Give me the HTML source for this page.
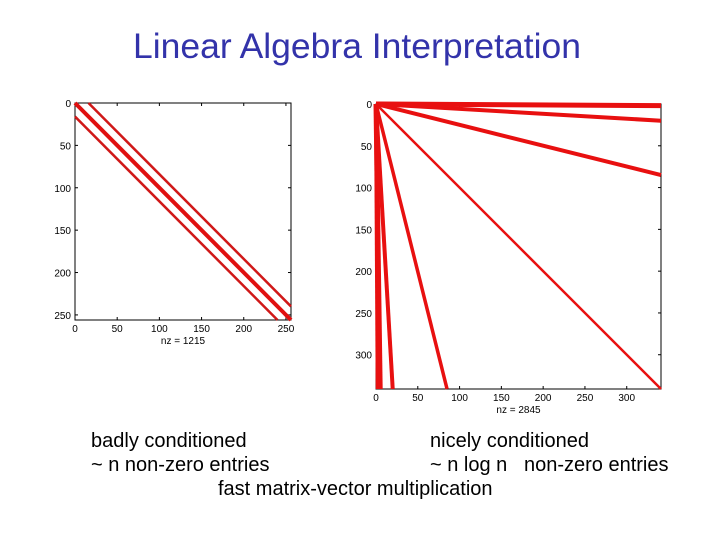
<!DOCTYPE html>
<html><head><meta charset="utf-8"><style>
body{margin:0;background:#fff;width:720px;height:540px;overflow:hidden;font-family:"Liberation Sans",sans-serif}
.t{position:absolute;white-space:nowrap}
</style></head><body>
<div class="t" style="left:133px;top:26px;font-size:35.5px;color:#3333aa">Linear Algebra Interpretation</div>
<svg id="s" width="720" height="540" style="position:absolute;left:0;top:0"></svg>
<div class="t" style="left:91px;top:430px;font-size:20px">badly conditioned</div>
<div class="t" style="left:91px;top:454px;font-size:20px">~ n non-zero entries</div>
<div class="t" style="left:430px;top:430px;font-size:20px">nicely conditioned</div>
<div class="t" style="left:430px;top:454px;font-size:20px">~ n log n &nbsp;&nbsp;non-zero entries</div>
<div class="t" style="left:218px;top:478px;font-size:20px">fast matrix-vector multiplication</div>
<script>
const leftN=256, leftTicks=[0,50,100,150,200,250], leftOffsets=[-16,0,16], leftWidths=[2.5,4,2.5], leftNz="nz = 1215";
const rightN=341, rightTicksX=[0,50,100,150,200,250,300], rightTicksY=[0,50,100,150,200,250,300];
const rightRowEnds=[2,20,85,341], rightRowW=[5,4,4,2.5];
const rightColEnds=[85,20,5,2], rightColW=[3.5,4,5,4], rightNz="nz = 2845";
const s=document.getElementById('s'),NS='http://www.w3.org/2000/svg';
function el(t,a,p){const e=document.createElementNS(NS,t);for(const k in a)e.setAttribute(k,a[k]);(p||s).appendChild(e);return e;}
function axes(x0,y0,w,h,n,tx,ty,name,nz){
  const sx=v=>x0+v/n*w, sy=v=>y0+v/n*h;
  const g=el('g',{});
  
  
  const r=el('rect',{x:x0,y:y0,width:w,height:h,fill:'#fff',stroke:'#000','stroke-width':1},g);
  
  
  tx.forEach(v=>{el('line',{x1:sx(v),x2:sx(v),y1:y0+h,y2:y0+h-3,stroke:'#000'},g);el('line',{x1:sx(v),x2:sx(v),y1:y0,y2:y0+3,stroke:'#000'},g);
    const t=el('text',{x:sx(v),y:y0+h+12,'font-size':10,'text-anchor':'middle',fill:'#000'},g);t.textContent=v;
    
    });
  ty.forEach(v=>{el('line',{x1:x0,x2:x0+3,y1:sy(v),y2:sy(v),stroke:'#000'},g);el('line',{x1:x0+w,x2:x0+w-3,y1:sy(v),y2:sy(v),stroke:'#000'},g);
    const t=el('text',{x:x0-4,y:sy(v)+4,'font-size':10,'text-anchor':'end',fill:'#000'},g);t.textContent=v;
    
    });
  const t=el('text',{x:x0+w/2,y:y0+h+24,'font-size':10,'text-anchor':'middle',fill:'#000'},g);t.textContent=nz;
  
  
  return {sx,sy,g};
}
const L=axes(75,103,216,217,leftN,leftTicks,leftTicks,'left-spy-plot',leftNz);
leftOffsets.forEach((o,i)=>{
  const c0=Math.max(0,o), r0=Math.max(0,-o), len=leftN-Math.abs(o);
  const ln=el('line',{x1:L.sx(c0),y1:L.sy(r0),x2:L.sx(c0+len),y2:L.sy(r0+len),stroke:i==1?'#e01010':'#d01818','stroke-width':leftWidths[i]},L.g);
  
  
});
const R=axes(376,104,285,285,rightN,rightTicksX,rightTicksY,'right-spy-plot',rightNz);
rightRowEnds.forEach((e,i)=>{
  const ln=el('line',{x1:R.sx(0),y1:R.sy(0),x2:R.sx(rightN),y2:R.sy(e),stroke:'#e81010','stroke-width':rightRowW[i]},R.g);
  
  
});
rightColEnds.forEach((e,i)=>{
  const ln=el('line',{x1:R.sx(0),y1:R.sy(0),x2:R.sx(e),y2:R.sy(rightN),stroke:'#e81010','stroke-width':rightColW[i]},R.g);
  
  
});
</script>
</body></html>
